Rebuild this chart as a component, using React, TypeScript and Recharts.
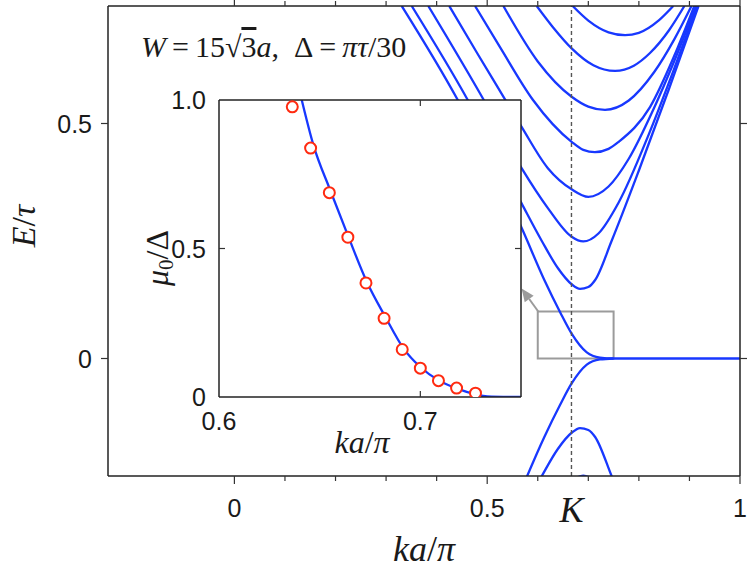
import { LineChart, Line, XAxis, YAxis, ReferenceLine, ReferenceArea, CartesianGrid } from "recharts"

const BLUE = "#1838ff"
const RED = "#ff2a10"
const GREY = "#9b9b9b"
const INK = "#1a1a1a"
const SANS = "'Liberation Sans', Arial, sans-serif"
const SERIF = "'Liberation Serif', 'Times New Roman', serif"

// main panel: bands as [ka/pi, E/tau]
const band1 = [[0.669, 0.75], [0.7, 0.719], [0.74, 0.694], [0.7726, 0.688], [0.8, 0.693], [0.84, 0.72], [0.868, 0.75]]
const band2 = [[0.598, 0.75], [0.63, 0.705], [0.667, 0.66], [0.71, 0.624], [0.7528, 0.612], [0.79, 0.623], [0.822, 0.65], [0.86, 0.699], [0.89, 0.75]]
const band3 = [[0.532, 0.75], [0.6, 0.632], [0.667, 0.557], [0.7, 0.536], [0.733, 0.529], [0.78, 0.549], [0.83, 0.609], [0.87, 0.679], [0.904, 0.75]]
const band4 = [[0.476, 0.75], [0.525, 0.663], [0.5906, 0.55], [0.667, 0.461], [0.69, 0.444], [0.713, 0.439], [0.74, 0.446], [0.76, 0.461], [0.822, 0.535], [0.87, 0.644], [0.9096, 0.75]]
const band5 = [[0.425, 0.75], [0.48, 0.65], [0.5352, 0.5515], [0.568, 0.493], [0.62, 0.405], [0.667, 0.36], [0.7, 0.344], [0.74, 0.366], [0.78, 0.425], [0.83, 0.533], [0.87, 0.633], [0.913, 0.75]]
const band6 = [[0.3835, 0.75], [0.4924, 0.5515], [0.568, 0.405], [0.62, 0.32], [0.667, 0.259], [0.69, 0.249], [0.72, 0.266], [0.76, 0.332], [0.82, 0.478], [0.87, 0.617], [0.9156, 0.75]]
const band7 = [[0.3507, 0.75], [0.4607, 0.5515], [0.568, 0.33], [0.608, 0.25], [0.64, 0.192], [0.667, 0.158], [0.6836, 0.148], [0.7, 0.152], [0.7135, 0.167], [0.746, 0.25], [0.8, 0.4], [0.86, 0.575], [0.918, 0.75]]
const band8 = [[0.331, 0.75], [0.441, 0.5515], [0.568, 0.278], [0.613, 0.167], [0.644, 0.099], [0.667, 0.053], [0.697, 0.013], [0.723, 0.002], [0.75, 0], [1.0, 0]]
const valence8 = [[0.568, -0.278], [0.613, -0.167], [0.644, -0.099], [0.667, -0.053], [0.697, -0.013], [0.723, -0.002], [0.75, 0]]
const valence7 = [[0.568, -0.33], [0.608, -0.25], [0.64, -0.192], [0.667, -0.158], [0.6836, -0.148], [0.7, -0.152], [0.7135, -0.167], [0.746, -0.25], [0.8, -0.4]]
const valence6 = [[0.655, -0.275], [0.69, -0.249], [0.725, -0.275]]

const bands = [band1, band2, band3, band4, band5, band6, band7, band8, valence8, valence7, valence6]

const xTicks = [0, 0.1, 0.2, 0.3, 0.4, 0.5, 0.6, 0.7, 0.8, 0.9, 1.0]
const xMajor = [0, 0.5, 1.0]
const yTicks = [0, 0.5]
const K_POS = 2 / 3

// inset: mu0/Delta vs ka/pi
const insetCurve = [[0.6411, 1.0], [0.6469, 0.848], [0.6552, 0.697], [0.6643, 0.539], [0.6734, 0.388], [0.6826, 0.27], [0.6917, 0.163], [0.7, 0.101], [0.7091, 0.056], [0.7183, 0.028], [0.7274, 0.009], [0.7332, 0.002], [0.75, 0]]
const insetK = [0.6364, 0.6455, 0.6548, 0.664, 0.673, 0.682, 0.691, 0.7, 0.709, 0.718, 0.7274]
const insetMu = [0.977, 0.838, 0.688, 0.538, 0.384, 0.265, 0.16, 0.097, 0.055, 0.03, 0.013]
const insetXTicks = [0.6, 0.7]
const insetYTicks = [0, 0.5, 1.0]

const TICK_FONT = 25

const pts = (a: number[][]) => a.map(([k, e]) => ({ k, e }))
const near = (a: number, b: number) => Math.abs(a - b) < 1e-6
const fmt = (v: number) => (near(v, 0) ? "0" : near(v, 1) ? "1" : String(v))

function MainBottomTick({ x, y, payload }: any) {
  const v = payload.value
  if (near(v, K_POS))
    return (
      <text x={x} y={y + 46} textAnchor="middle" fontFamily={SERIF} fontStyle="italic" fontSize={36} fill={INK}>
        K
      </text>
    )
  const major = xMajor.some((m) => near(m, v))
  return (
    <g>
      <line x1={x} y1={y} x2={x} y2={y + (major ? 8 : 5)} stroke="#333" strokeWidth={1.2} />
      {major && (
        <text x={x} y={y + 41} textAnchor="middle" fontFamily={SANS} fontSize={TICK_FONT} fill={INK}>
          {fmt(v)}
        </text>
      )}
    </g>
  )
}

function MainTopTick({ x, y, payload }: any) {
  const major = xMajor.some((m) => near(m, payload.value))
  return <line x1={x} y1={y} x2={x} y2={y - (major ? 8 : 5)} stroke="#333" strokeWidth={1.2} />
}

function MainLeftTick({ x, y, payload }: any) {
  return (
    <g>
      <line x1={x} y1={y} x2={x - 7} y2={y} stroke="#333" strokeWidth={1.2} />
      <text x={x - 16} y={y + 9} textAnchor="end" fontFamily={SANS} fontSize={TICK_FONT} fill={INK}>
        {fmt(payload.value)}
      </text>
    </g>
  )
}

function MainRightTick({ x, y }: any) {
  return <line x1={x} y1={y} x2={x + 7} y2={y} stroke="#333" strokeWidth={1.2} />
}

function InsetBottomTick({ x, y, payload }: any) {
  const v = payload.value
  return (
    <g>
      {!near(v, 0.6) && <line x1={x} y1={y} x2={x} y2={y - 6} stroke="#333" strokeWidth={1.2} />}
      <text x={x} y={y + 33} textAnchor="middle" fontFamily={SANS} fontSize={TICK_FONT} fill={INK}>
        {v.toFixed(1)}
      </text>
    </g>
  )
}

function InsetTopTick({ x, y }: any) {
  return <line x1={x} y1={y} x2={x} y2={y + 6} stroke="#333" strokeWidth={1.2} />
}

function InsetLeftTick({ x, y, payload }: any) {
  const v = payload.value
  return (
    <g>
      {near(v, 0.5) && <line x1={x} y1={y} x2={x + 6} y2={y} stroke="#333" strokeWidth={1.2} />}
      <text x={x - 13} y={y + 9} textAnchor="end" fontFamily={SANS} fontSize={TICK_FONT} fill={INK}>
        {near(v, 0) ? "0" : v.toFixed(1)}
      </text>
    </g>
  )
}

function InsetRightTick({ x, y }: any) {
  return <line x1={x} y1={y} x2={x - 6} y2={y} stroke="#333" strokeWidth={1.2} />
}

function Arrow({ x1, y1, x2, y2 }: any) {
  const dx = x2 - x1
  const dy = y2 - y1
  const len = Math.hypot(dx, dy) || 1
  const ux = dx / len
  const uy = dy / len
  const hl = 13
  const hw = 5.5
  const bx = x2 - ux * hl
  const by = y2 - uy * hl
  return (
    <g>
      <line x1={x1} y1={y1} x2={bx} y2={by} stroke={GREY} strokeWidth={2} />
      <polygon points={`${x2},${y2} ${bx - uy * hw},${by + ux * hw} ${bx + uy * hw},${by - ux * hw}`} fill={GREY} />
    </g>
  )
}

const frame = { stroke: "#222", strokeWidth: 1.5 }

export default function App() {
  const circles = insetK.map((k, i) => ({ k, e: insetMu[i] }))
  return (
    <div style={{ position: "absolute", left: 0, top: 0, width: 747, height: 572, background: "#fff", overflow: "hidden" }}>
      <div style={{ position: "absolute", left: 0, top: 0 }}>
        <LineChart width={747} height={572} margin={{ top: 0, right: 0, left: 58, bottom: 36 }}>
          <XAxis dataKey="k" type="number" domain={[-0.25, 1]} allowDataOverflow ticks={[...xTicks, K_POS]} interval={0}
            height={60} tickSize={0} tickMargin={0} tickLine={false} axisLine={frame} tick={<MainBottomTick />} />
          <XAxis xAxisId="top" orientation="top" dataKey="k" type="number" domain={[-0.25, 1]} allowDataOverflow ticks={xTicks}
            interval={0} height={6} tickSize={0} tickMargin={0} tickLine={false} axisLine={frame} tick={<MainTopTick />} />
          <YAxis type="number" domain={[-0.25, 0.75]} allowDataOverflow ticks={yTicks} interval={0} width={50}
            tickSize={0} tickMargin={0} tickLine={false} axisLine={frame} tick={<MainLeftTick />} />
          <YAxis yAxisId="right" orientation="right" type="number" domain={[-0.25, 0.75]} allowDataOverflow ticks={yTicks}
            interval={0} width={7} tickSize={0} tickMargin={0} tickLine={false} axisLine={frame} tick={<MainRightTick />} />
          {bands.map((b, i) => (
            <Line key={i} data={pts(b)} dataKey="e" type="monotone" stroke={BLUE} strokeWidth={2.3} dot={false} isAnimationActive={false} />
          ))}
          <ReferenceArea x1={0.6} x2={0.75} y1={0} y2={0.1} fill="none" fillOpacity={0} stroke={GREY} strokeWidth={2} />
          <ReferenceLine segment={[{ x: 0.601, y: 0.1 }, { x: 0.568, y: 0.149 }]} shape={<Arrow />} />
          <ReferenceLine x={K_POS} stroke="#555" strokeWidth={1.4} strokeDasharray="4 3" />
        </LineChart>
      </div>

      <div style={{ position: "absolute", left: 0, top: 0 }}>
        <LineChart width={747} height={572} margin={{ top: 95, right: 221, left: 179, bottom: 135 }}>
          <CartesianGrid horizontal={false} vertical={false} fill="#fff" />
          <XAxis dataKey="k" type="number" domain={[0.6, 0.75]} allowDataOverflow ticks={insetXTicks} interval={0}
            height={40} tickSize={0} tickMargin={0} tickLine={false} axisLine={frame} tick={<InsetBottomTick />} />
          <XAxis xAxisId="top" orientation="top" dataKey="k" type="number" domain={[0.6, 0.75]} allowDataOverflow ticks={[0.7]}
            interval={0} height={5} tickSize={0} tickMargin={0} tickLine={false} axisLine={frame} tick={<InsetTopTick />} />
          <YAxis type="number" domain={[0, 1]} allowDataOverflow ticks={insetYTicks} interval={0} width={40}
            tickSize={0} tickMargin={0} tickLine={false} axisLine={frame} tick={<InsetLeftTick />} />
          <YAxis yAxisId="right" orientation="right" type="number" domain={[0, 1]} allowDataOverflow ticks={[0.5]}
            interval={0} width={5} tickSize={0} tickMargin={0} tickLine={false} axisLine={frame} tick={<InsetRightTick />} />
          <Line data={pts(insetCurve)} dataKey="e" type="monotone" stroke={BLUE} strokeWidth={2.3} dot={false} isAnimationActive={false} />
          <Line data={circles} dataKey="e" stroke="none" dot={{ r: 5.5, stroke: RED, strokeWidth: 2, fill: "#fff" }}
            isAnimationActive={false} />
        </LineChart>
      </div>

      <svg width={747} height={572} style={{ position: "absolute", left: 0, top: 0, pointerEvents: "none" }}>
        <text x={141} y={57} fontFamily={SERIF} fontSize={30} fill={INK}>
          <tspan fontStyle="italic">W</tspan>
          <tspan>{"\u2009=\u200915\u221A"}</tspan>
          <tspan style={{ textDecoration: "overline" }}>3</tspan>
          <tspan fontStyle="italic">a</tspan>
          <tspan>{",\u2002\u0394\u2009=\u2009"}</tspan>
          <tspan fontStyle="italic">{"\u03C0\u03C4"}</tspan>
          <tspan>/30</tspan>
        </text>
        <text x={35} y={226} transform="rotate(-90 35 226)" textAnchor="middle" fontFamily={SERIF} fontSize={34} fill={INK}>
          <tspan fontStyle="italic">E</tspan>
          <tspan>/</tspan>
          <tspan fontStyle="italic">{"\u03C4"}</tspan>
        </text>
        <text x={424} y={561} textAnchor="middle" fontFamily={SERIF} fontSize={36} fill={INK}>
          <tspan fontStyle="italic">ka</tspan>
          <tspan>/</tspan>
          <tspan fontStyle="italic">{"\u03C0"}</tspan>
        </text>
        <text x={168} y={258} transform="rotate(-90 168 258)" textAnchor="middle" fontFamily={SERIF} fontSize={32} fill={INK}>
          <tspan fontStyle="italic">{"\u03BC"}</tspan>
          <tspan fontSize={21} dy={5}>0</tspan>
          <tspan dy={-5}>{"/\u0394"}</tspan>
        </text>
        <text x={362} y={453} textAnchor="middle" fontFamily={SERIF} fontSize={32} fill={INK}>
          <tspan fontStyle="italic">ka</tspan>
          <tspan>/</tspan>
          <tspan fontStyle="italic">{"\u03C0"}</tspan>
        </text>
      </svg>
    </div>
  )
}
